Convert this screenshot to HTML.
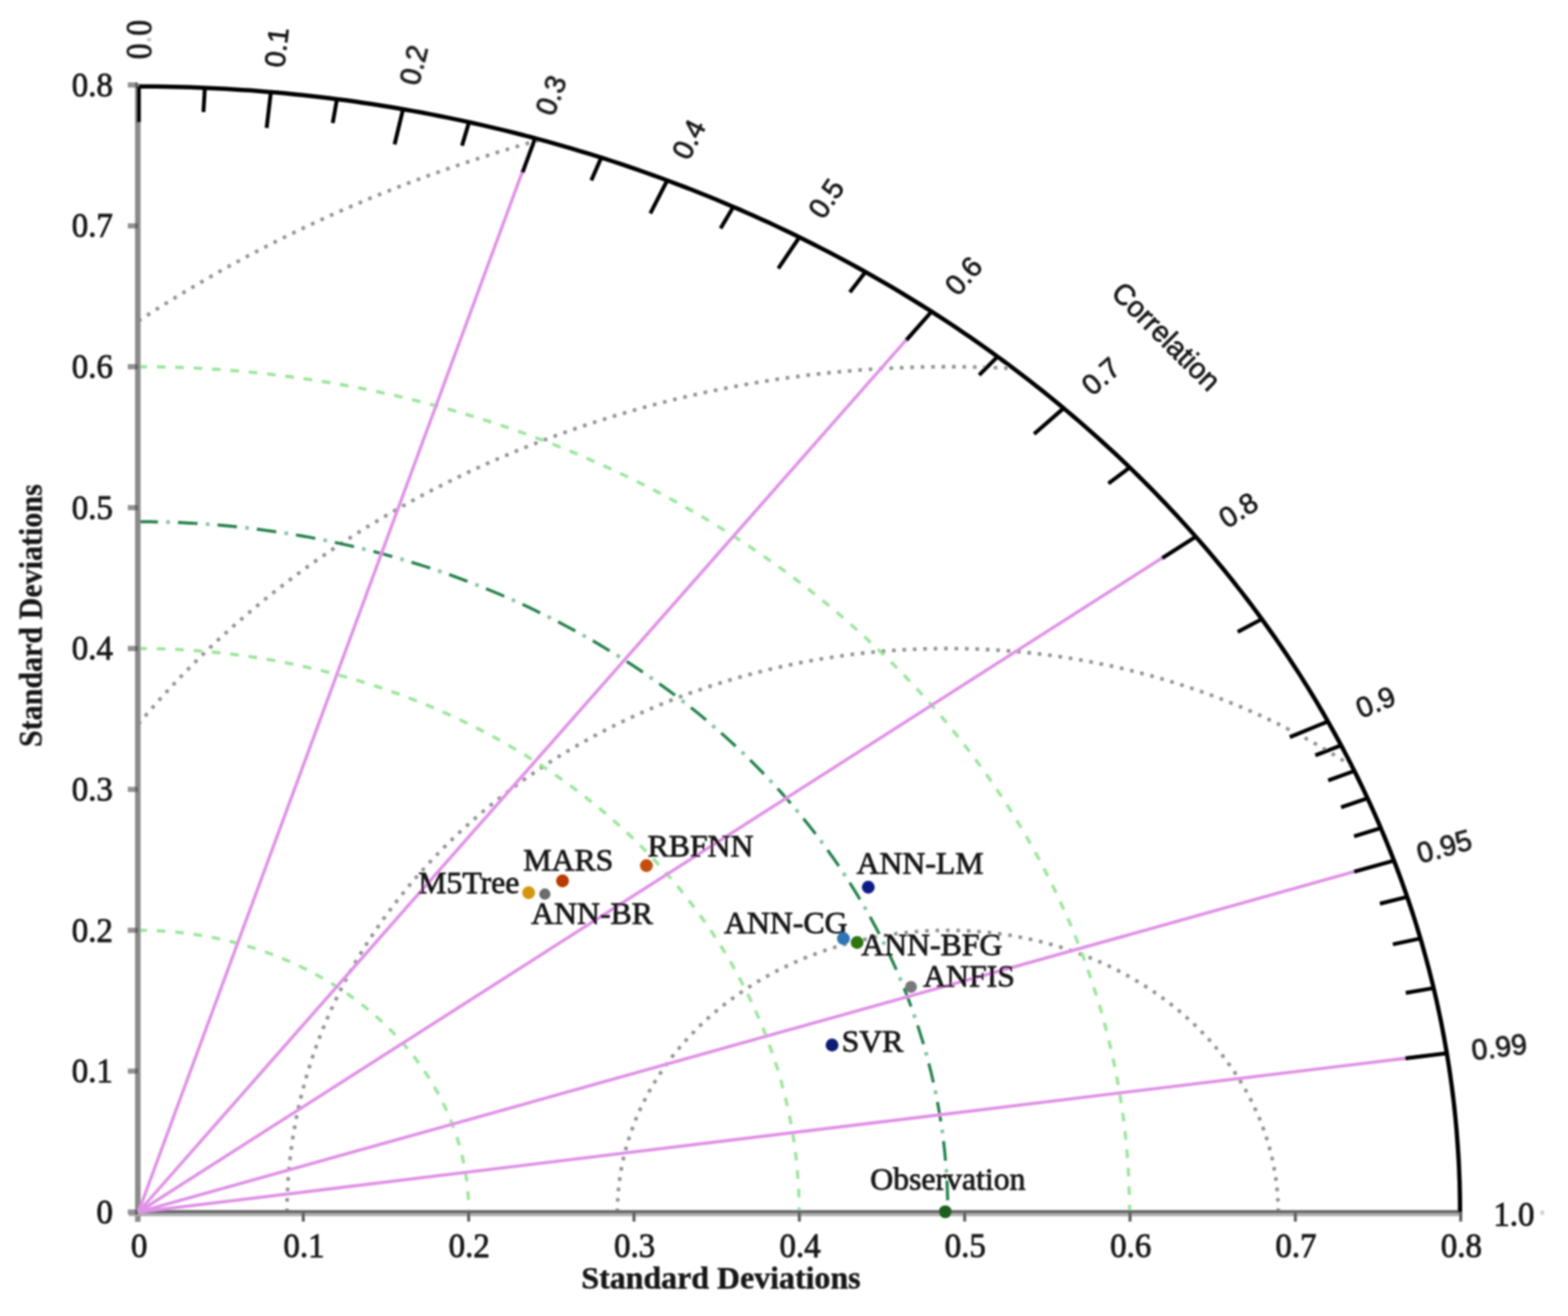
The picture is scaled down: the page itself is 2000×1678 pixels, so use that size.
<!DOCTYPE html>
<html lang="en">
<head>
<meta charset="utf-8">
<title>Taylor diagram</title>
<style>
html,body{margin:0;padding:0;background:#fff;}
body{width:2000px;height:1678px;overflow:hidden;}
svg{display:block;}
</style>
</head>
<body>
<svg width="2000" height="1678" viewBox="0 0 2000 1678">
<defs><filter id="soft" x="0" y="0" width="2000" height="1678" filterUnits="userSpaceOnUse"><feGaussianBlur stdDeviation="1.0"/></filter></defs>
<rect width="2000" height="1678" fill="#fff"/>
<g filter="url(#soft)">
<g fill="none" stroke="#939393" stroke-width="4.6" stroke-dasharray="4.6 8.7">
<path d="M787.5 1545.5 L787.6 1539.9 L787.7 1534.2 L788 1528.6 L788.4 1522.9 L788.8 1517.3 L789.4 1511.7 L790.1 1506.1 L790.9 1500.5 L791.7 1494.9 L792.7 1489.3 L793.8 1483.7 L795 1478.2 L796.3 1472.6 L797.7 1467.1 L799.2 1461.6 L800.8 1456.1 L802.5 1450.7 L804.3 1445.3 L806.2 1439.9 L808.2 1434.5 L810.2 1429.1 L812.4 1423.8 L814.7 1418.5 L817.1 1413.2 L819.6 1408 L822.2 1402.8 L824.9 1397.6 L827.6 1392.5 L830.5 1387.4 L833.5 1382.4 L836.5 1377.4 L839.7 1372.4 L842.9 1367.5 L846.2 1362.6 L849.6 1357.8 L853.1 1353 L856.7 1348.2 L860.4 1343.5 L864.2 1338.9 L868 1334.3 L871.9 1329.8 L876 1325.3 L880.1 1320.9 L884.2 1316.5 L888.5 1312.2 L892.8 1307.9 L897.2 1303.7 L901.7 1299.5 L906.3 1295.5 L911 1291.4 L915.7 1287.5 L920.5 1283.6 L925.3 1279.8 L930.3 1276 L935.3 1272.3 L940.3 1268.7 L945.5 1265.1 L950.7 1261.6 L955.9 1258.2 L961.2 1254.8 L966.6 1251.5 L972.1 1248.3 L977.6 1245.2 L983.1 1242.1 L988.7 1239.1 L994.4 1236.2 L1000.1 1233.4 L1005.9 1230.6 L1011.7 1228 L1017.6 1225.4 L1023.5 1222.8 L1029.5 1220.4 L1035.5 1218 L1041.6 1215.8 L1047.7 1213.6 L1053.8 1211.4 L1060 1209.4 L1066.2 1207.4 L1072.4 1205.6 L1078.7 1203.8 L1085 1202.1 L1091.4 1200.5 L1097.7 1198.9 L1104.1 1197.5 L1110.6 1196.1 L1117 1194.9 L1123.5 1193.7 L1130 1192.6 L1136.5 1191.6 L1143 1190.6 L1149.6 1189.8 L1156.1 1189 L1162.7 1188.4 L1169.3 1187.8 L1175.9 1187.3 L1182.5 1186.9 L1189.1 1186.6 L1195.7 1186.4 L1202.3 1186.2 L1208.9 1186.2 L1215.5 1186.2 L1222.2 1186.4 L1228.8 1186.6 L1235.4 1186.9 L1242 1187.3 L1248.6 1187.8 L1255.2 1188.4 L1261.7 1189 L1268.3 1189.8 L1274.9 1190.6 L1281.4 1191.6 L1287.9 1192.6 L1294.4 1193.7 L1300.9 1194.9 L1307.3 1196.1 L1313.7 1197.5 L1320.1 1198.9 L1326.5 1200.5 L1332.8 1202.1 L1339.1 1203.8 L1345.4 1205.6 L1351.7 1207.4 L1357.9 1209.4 L1364.1 1211.4 L1370.2 1213.6 L1376.3 1215.8 L1382.3 1218 L1388.4 1220.4 L1394.3 1222.8 L1400.2 1225.4 L1406.1 1228 L1411.9 1230.6 L1417.7 1233.4 L1423.4 1236.2 L1429.1 1239.1 L1434.7 1242.1 L1440.3 1245.2 L1445.8 1248.3 L1451.2 1251.5 L1456.6 1254.8 L1461.9 1258.2 L1467.2 1261.6 L1472.4 1265.1 L1477.5 1268.7 L1482.6 1272.3 L1487.6 1276 L1492.5 1279.8 L1497.4 1283.6 L1502.2 1287.5 L1506.9 1291.4 L1511.5 1295.5 L1516.1 1299.5 L1520.6 1303.7 L1525 1307.9 L1529.4 1312.2 L1533.6 1316.5 L1537.8 1320.9 L1541.9 1325.3 L1545.9 1329.8 L1549.8 1334.3 L1553.7 1338.9 L1557.5 1343.5 L1561.1 1348.2 L1564.7 1353 L1568.2 1357.8 L1571.6 1362.6 L1575 1367.5 L1578.2 1372.4 L1581.3 1377.4 L1584.4 1382.4 L1587.4 1387.4 L1590.2 1392.5 L1593 1397.6 L1595.7 1402.8 L1598.3 1408 L1600.7 1413.2 L1603.1 1418.5 L1605.4 1423.8 L1607.6 1429.1 L1609.7 1434.5 L1611.7 1439.9 L1613.6 1445.3 L1615.4 1450.7 L1617.1 1456.1 L1618.7 1461.6 L1620.2 1467.1 L1621.6 1472.6 L1622.9 1478.2 L1624.1 1483.7 L1625.1 1489.3 L1626.1 1494.9 L1627 1500.5 L1627.8 1506.1 L1628.5 1511.7 L1629 1517.3 L1629.5 1522.9 L1629.9 1528.6 L1630.1 1534.2 L1630.3 1539.9 L1630.3 1545.5"/>
<path d="M366.1 1545.5 L366.2 1537.5 L366.3 1529.5 L366.6 1521.5 L367 1513.5 L367.4 1505.5 L368 1497.5 L368.7 1489.5 L369.5 1481.5 L370.4 1473.5 L371.4 1465.6 L372.5 1457.6 L373.7 1449.7 L375 1441.7 L376.4 1433.8 L377.9 1425.9 L379.5 1418 L381.2 1410.1 L383 1402.3 L385 1394.4 L387 1386.6 L389.1 1378.8 L391.3 1371 L393.7 1363.3 L396.1 1355.5 L398.6 1347.8 L401.3 1340.1 L404 1332.5 L406.8 1324.8 L409.8 1317.2 L412.8 1309.6 L415.9 1302.1 L419.2 1294.6 L422.5 1287.1 L425.9 1279.6 L429.5 1272.2 L433.1 1264.8 L436.8 1257.5 L440.6 1250.1 L444.5 1242.9 L448.5 1235.6 L452.6 1228.4 L456.8 1221.2 L461.1 1214.1 L465.5 1207 L470 1200 L474.5 1193 L479.2 1186 L483.9 1179.1 L488.8 1172.2 L493.7 1165.4 L498.7 1158.6 L503.8 1151.9 L509 1145.2 L514.3 1138.6 L519.6 1132 L525.1 1125.5 L530.6 1119 L536.2 1112.6 L541.9 1106.2 L547.7 1099.9 L553.6 1093.7 L559.5 1087.5 L565.5 1081.3 L571.7 1075.2 L577.8 1069.2 L584.1 1063.2 L590.4 1057.3 L596.9 1051.5 L603.4 1045.7 L609.9 1040 L616.6 1034.3 L623.3 1028.7 L630.1 1023.2 L637 1017.7 L643.9 1012.3 L650.9 1007 L658 1001.7 L665.1 996.5 L672.3 991.4 L679.6 986.3 L687 981.3 L694.4 976.4 L701.8 971.5 L709.4 966.7 L717 962 L724.6 957.4 L732.3 952.8 L740.1 948.3 L748 943.9 L755.8 939.6 L763.8 935.3 L771.8 931.1 L779.9 927 L788 923 L796.1 919 L804.4 915.1 L812.6 911.3 L820.9 907.6 L829.3 903.9 L837.7 900.4 L846.2 896.9 L854.7 893.5 L863.2 890.1 L871.8 886.9 L880.4 883.7 L889.1 880.7 L897.8 877.7 L906.6 874.7 L915.4 871.9 L924.2 869.2 L933 866.5 L941.9 863.9 L950.9 861.4 L959.8 859 L968.8 856.7 L977.8 854.4 L986.9 852.3 L996 850.2 L1005.1 848.2 L1014.2 846.3 L1023.3 844.5 L1032.5 842.8 L1041.7 841.2 L1050.9 839.6 L1060.2 838.2 L1069.4 836.8 L1078.7 835.5 L1088 834.3 L1097.3 833.2 L1106.6 832.2 L1115.9 831.3 L1125.3 830.4 L1134.6 829.7 L1144 829 L1153.4 828.5 L1162.7 828 L1172.1 827.6 L1181.5 827.3 L1190.9 827.1 L1200.3 826.9 L1209.7 826.9 L1219.1 827 L1228.5 827.1 L1237.9 827.3 L1247.3 827.6 L1256.6 828.1 L1266 828.6 L1275.4 829.1 L1284.8 829.8 L1294.1 830.6 L1303.4 831.4 L1312.8 832.4 L1322.1 833.4 L1331.4 834.5 L1340.7 835.7 L1349.9 837 L1359.2 838.4 L1368.4 839.9 L1377.7 841.4 L1386.8 843.1 L1396 844.8 L1405.2 846.7 L1414.3 848.6 L1423.4 850.6 L1432.5 852.6 L1441.5 854.8 L1450.5 857.1 L1459.5 859.4 L1468.5 861.8 L1477.4 864.3 L1486.3 866.9 L1495.1 869.6 L1503.9 872.4 L1512.7 875.2 L1521.5 878.1 L1530.2 881.1 L1538.8 884.2 L1547.5 887.4 L1556 890.7 L1564.6 894 L1573.1 897.4 L1581.5 900.9 L1589.9 904.5 L1598.3 908.2 L1606.6 911.9 L1614.9 915.7 L1623.1 919.6 L1631.2 923.6 L1639.3 927.7 L1647.4 931.8 L1655.4 936 L1663.3 940.3 L1671.2 944.6 L1679 949.1 L1686.8 953.6 L1694.5 958.1 L1702.1 962.8 L1709.7 967.5 L1717.3 972.3 L1724.7 977.2"/>
<path d="M176.5 923.4 L180.2 918.9 L184 914.5 L187.8 910 L191.7 905.5 L195.5 901.1 L199.4 896.7 L203.3 892.3 L207.2 887.9 L211.2 883.6 L215.2 879.2 L219.2 874.9 L223.2 870.6 L227.3 866.3 L231.4 862 L235.5 857.8 L239.6 853.5 L243.8 849.3 L248 845.1 L252.2 840.9 L256.4 836.7 L260.7 832.6 L265 828.5 L269.3 824.4 L273.7 820.3 L278 816.2 L282.4 812.1 L286.8 808.1 L291.3 804.1 L295.7 800.1 L300.2 796.1 L304.7 792.2 L309.3 788.2 L313.8 784.3 L318.4 780.4 L323 776.6 L327.6 772.7 L332.3 768.9 L336.9 765 L341.6 761.3 L346.4 757.5 L351.1 753.7 L355.9 750 L360.7 746.3 L365.5 742.6 L370.3 738.9 L375.1 735.3 L380 731.6 L384.9 728 L389.8 724.5 L394.8 720.9 L399.7 717.3 L404.7 713.8 L409.7 710.3 L414.7 706.9 L419.8 703.4 L424.8 700 L429.9 696.6 L435 693.2 L440.2 689.8 L445.3 686.5 L450.5 683.1 L455.7 679.8 L460.9 676.6 L466.1 673.3 L471.3 670.1 L476.6 666.9 L481.9 663.7 L487.2 660.5 L492.5 657.4 L497.8 654.3 L503.2 651.2 L508.6 648.1 L514 645.1 L519.4 642.1 L524.8 639.1 L530.3 636.1 L535.7 633.1 L541.2 630.2 L546.7 627.3 L552.2 624.4 L557.8 621.6 L563.3 618.7 L568.9 615.9 L574.5 613.2 L580.1 610.4 L585.7 607.7 L591.4 605 L597 602.3 L602.7 599.6 L608.4 597 L614.1 594.4 L619.8 591.8 L625.5 589.2 L631.3 586.7 L637 584.2 L642.8 581.7 L648.6 579.3 L654.4 576.8 L660.2 574.4 L666.1 572 L671.9 569.7 L677.8 567.4 L683.6 565.1 L689.5 562.8 L695.4 560.5 L701.4 558.3 L707.3 556.1 L713.2 553.9 L719.2 551.8 L725.2 549.6 L731.2 547.5 L737.1 545.5 L743.2 543.4 L749.2 541.4 L755.2 539.4 L761.3 537.4 L767.3 535.5 L773.4 533.6 L779.5 531.7 L785.5 529.8 L791.7 528 L797.8 526.2 L803.9 524.4 L810 522.7 L816.2 520.9 L822.3 519.2 L828.5 517.6 L834.7 515.9 L840.8 514.3 L847 512.7 L853.2 511.1 L859.5 509.6 L865.7 508.1 L871.9 506.6 L878.1 505.2 L884.4 503.7 L890.7 502.3 L896.9 500.9 L903.2 499.6 L909.5 498.3 L915.8 497 L922.1 495.7 L928.4 494.5 L934.7 493.3 L941 492.1 L947.3 490.9 L953.7 489.8 L960 488.7 L966.3 487.6 L972.7 486.6 L979.1 485.6 L985.4 484.6 L991.8 483.6 L998.2 482.7 L1004.5 481.8 L1010.9 480.9 L1017.3 480.1 L1023.7 479.2 L1030.1 478.4 L1036.5 477.7 L1042.9 476.9 L1049.4 476.2 L1055.8 475.5 L1062.2 474.9 L1068.6 474.3 L1075.1 473.7 L1081.5 473.1 L1087.9 472.5 L1094.4 472 L1100.8 471.5 L1107.3 471.1 L1113.7 470.7 L1120.2 470.3 L1126.6 469.9 L1133.1 469.5 L1139.5 469.2 L1146 468.9 L1152.5 468.7 L1158.9 468.4 L1165.4 468.2 L1171.9 468.1 L1178.3 467.9 L1184.8 467.8 L1191.3 467.7 L1197.7 467.6 L1204.2 467.6 L1210.7 467.6 L1217.1 467.6 L1223.6 467.7 L1230.1 467.8 L1236.6 467.9 L1243 468 L1249.5 468.2 L1256 468.3 L1262.4 468.6 L1268.9 468.8 L1275.3 469.1 L1281.8 469.4 L1288.3 469.7 L1294.7 470.1"/>
<path d="M176.5 409.4 L178.8 407.9 L181.1 406.4 L183.5 404.9 L185.8 403.3 L188.1 401.8 L190.5 400.3 L192.8 398.8 L195.1 397.3 L197.5 395.8 L199.8 394.3 L202.2 392.8 L204.5 391.3 L206.9 389.8 L209.3 388.3 L211.6 386.9 L214 385.4 L216.4 383.9 L218.7 382.4 L221.1 381 L223.5 379.5 L225.9 378 L228.2 376.6 L230.6 375.1 L233 373.7 L235.4 372.2 L237.8 370.8 L240.2 369.4 L242.6 367.9 L245 366.5 L247.4 365.1 L249.8 363.6 L252.2 362.2 L254.7 360.8 L257.1 359.4 L259.5 358 L261.9 356.6 L264.4 355.2 L266.8 353.8 L269.2 352.4 L271.7 351 L274.1 349.6 L276.5 348.2 L279 346.8 L281.4 345.4 L283.9 344.1 L286.3 342.7 L288.8 341.3 L291.2 340 L293.7 338.6 L296.2 337.3 L298.6 335.9 L301.1 334.5 L303.6 333.2 L306.1 331.9 L308.5 330.5 L311 329.2 L313.5 327.9 L316 326.5 L318.5 325.2 L321 323.9 L323.5 322.6 L326 321.3 L328.4 320 L331 318.7 L333.5 317.4 L336 316.1 L338.5 314.8 L341 313.5 L343.5 312.2 L346 310.9 L348.5 309.6 L351.1 308.4 L353.6 307.1 L356.1 305.8 L358.6 304.6 L361.2 303.3 L363.7 302 L366.3 300.8 L368.8 299.5 L371.3 298.3 L373.9 297.1 L376.4 295.8 L379 294.6 L381.5 293.4 L384.1 292.1 L386.7 290.9 L389.2 289.7 L391.8 288.5 L394.3 287.3 L396.9 286.1 L399.5 284.9 L402.1 283.7 L404.6 282.5 L407.2 281.3 L409.8 280.1 L412.4 278.9 L415 277.7 L417.6 276.5 L420.1 275.4 L422.7 274.2 L425.3 273 L427.9 271.9 L430.5 270.7 L433.1 269.6 L435.7 268.4 L438.3 267.3 L441 266.1 L443.6 265 L446.2 263.9 L448.8 262.7 L451.4 261.6 L454 260.5 L456.7 259.4 L459.3 258.3 L461.9 257.1 L464.5 256 L467.2 254.9 L469.8 253.8 L472.4 252.7 L475.1 251.7 L477.7 250.6 L480.4 249.5 L483 248.4 L485.7 247.3 L488.3 246.3 L491 245.2 L493.6 244.1 L496.3 243.1 L498.9 242 L501.6 241 L504.3 239.9 L506.9 238.9 L509.6 237.8 L512.3 236.8 L514.9 235.8 L517.6 234.7 L520.3 233.7 L523 232.7 L525.6 231.7 L528.3 230.7 L531 229.7 L533.7 228.7 L536.4 227.7 L539.1 226.7 L541.8 225.7 L544.5 224.7 L547.2 223.7 L549.9 222.7 L552.6 221.7 L555.3 220.8 L558 219.8 L560.7 218.8 L563.4 217.9 L566.1 216.9 L568.8 216 L571.5 215 L574.2 214.1 L576.9 213.1 L579.7 212.2 L582.4 211.3 L585.1 210.3 L587.8 209.4 L590.6 208.5 L593.3 207.6 L596 206.7 L598.8 205.8 L601.5 204.9 L604.2 204 L607 203.1 L609.7 202.2 L612.4 201.3 L615.2 200.4 L617.9 199.5 L620.7 198.7 L623.4 197.8 L626.2 196.9 L628.9 196.1 L631.7 195.2 L634.4 194.3 L637.2 193.5 L640 192.7 L642.7 191.8 L645.5 191 L648.3 190.1 L651 189.3 L653.8 188.5 L656.6 187.7 L659.3 186.8 L662.1 186 L664.9 185.2 L667.7 184.4 L670.4 183.6 L673.2 182.8 L676 182 L678.8 181.2 L681.6 180.5 L684.3 179.7 L687.1 178.9 L689.9 178.1 L692.7 177.4"/>
</g>
<g fill="none" stroke="#9ce59c" stroke-width="4.1" stroke-dasharray="11 12.5">
<path d="M176.5 1186.2 L179.8 1186.2 L183.1 1186.2 L186.4 1186.3 L189.7 1186.4 L193 1186.5 L196.4 1186.6 L199.7 1186.7 L203 1186.9 L206.3 1187.1 L209.6 1187.3 L212.9 1187.5 L216.2 1187.8 L219.5 1188.1 L222.7 1188.4 L226 1188.7 L229.3 1189 L232.6 1189.4 L235.9 1189.8 L239.2 1190.2 L242.4 1190.6 L245.7 1191.1 L249 1191.6 L252.2 1192 L255.5 1192.6 L258.7 1193.1 L262 1193.7 L265.2 1194.2 L268.4 1194.9 L271.7 1195.5 L274.9 1196.1 L278.1 1196.8 L281.3 1197.5 L284.5 1198.2 L287.7 1198.9 L290.9 1199.7 L294.1 1200.5 L297.2 1201.3 L300.4 1202.1 L303.6 1202.9 L306.7 1203.8 L309.9 1204.7 L313 1205.6 L316.1 1206.5 L319.2 1207.4 L322.4 1208.4 L325.5 1209.4 L328.5 1210.4 L331.6 1211.4 L334.7 1212.5 L337.8 1213.6 L340.8 1214.6 L343.9 1215.8 L346.9 1216.9 L349.9 1218 L352.9 1219.2 L355.9 1220.4 L358.9 1221.6 L361.9 1222.8 L364.9 1224.1 L367.8 1225.4 L370.8 1226.7 L373.7 1228 L376.6 1229.3 L379.5 1230.6 L382.4 1232 L385.3 1233.4 L388.2 1234.8 L391 1236.2 L393.9 1237.7 L396.7 1239.1 L399.5 1240.6 L402.3 1242.1 L405.1 1243.7 L407.9 1245.2 L410.6 1246.8 L413.4 1248.3 L416.1 1249.9 L418.8 1251.5 L421.5 1253.2 L424.2 1254.8 L426.9 1256.5 L429.5 1258.2 L432.2 1259.9 L434.8 1261.6 L437.4 1263.3 L440 1265.1 L442.6 1266.9 L445.1 1268.7 L447.7 1270.5 L450.2 1272.3 L452.7 1274.1 L455.2 1276 L457.7 1277.9 L460.1 1279.8 L462.5 1281.7 L465 1283.6 L467.4 1285.5 L469.8 1287.5 L472.1 1289.4 L474.5 1291.4 L476.8 1293.4 L479.1 1295.5 L481.4 1297.5 L483.7 1299.5 L485.9 1301.6 L488.2 1303.7 L490.4 1305.8 L492.6 1307.9 L494.8 1310 L496.9 1312.2 L499.1 1314.3 L501.2 1316.5 L503.3 1318.7 L505.4 1320.9 L507.4 1323.1 L509.5 1325.3 L511.5 1327.5 L513.5 1329.8 L515.5 1332 L517.4 1334.3 L519.4 1336.6 L521.3 1338.9 L523.2 1341.2 L525 1343.5 L526.9 1345.9 L528.7 1348.2 L530.5 1350.6 L532.3 1353 L534.1 1355.4 L535.8 1357.8 L537.5 1360.2 L539.2 1362.6 L540.9 1365 L542.5 1367.5 L544.2 1369.9 L545.8 1372.4 L547.4 1374.9 L548.9 1377.4 L550.5 1379.9 L552 1382.4 L553.5 1384.9 L554.9 1387.4 L556.4 1390 L557.8 1392.5 L559.2 1395.1 L560.6 1397.6 L561.9 1400.2 L563.2 1402.8 L564.5 1405.4 L565.8 1408 L567.1 1410.6 L568.3 1413.2 L569.5 1415.9 L570.7 1418.5 L571.9 1421.1 L573 1423.8 L574.1 1426.5 L575.2 1429.1 L576.2 1431.8 L577.3 1434.5 L578.3 1437.2 L579.3 1439.9 L580.2 1442.6 L581.2 1445.3 L582.1 1448 L583 1450.7 L583.8 1453.4 L584.7 1456.1 L585.5 1458.9 L586.3 1461.6 L587 1464.4 L587.8 1467.1 L588.5 1469.9 L589.1 1472.6 L589.8 1475.4 L590.4 1478.2 L591 1480.9 L591.6 1483.7 L592.2 1486.5 L592.7 1489.3 L593.2 1492.1 L593.7 1494.9 L594.1 1497.7 L594.6 1500.5 L595 1503.3 L595.4 1506.1 L595.7 1508.9 L596 1511.7 L596.3 1514.5 L596.6 1517.3 L596.8 1520.1 L597.1 1522.9 L597.3 1525.8 L597.4 1528.6 L597.6 1531.4 L597.7 1534.2 L597.8 1537 L597.8 1539.9 L597.9 1542.7 L597.9 1545.5"/>
<path d="M176.5 826.9 L183.1 826.9 L189.7 827 L196.4 827.1 L203 827.3 L209.6 827.5 L216.2 827.7 L222.8 828 L229.4 828.3 L236 828.7 L242.6 829.1 L249.2 829.6 L255.8 830.1 L262.4 830.6 L269 831.2 L275.6 831.9 L282.1 832.6 L288.7 833.3 L295.3 834.1 L301.8 834.9 L308.3 835.7 L314.9 836.7 L321.4 837.6 L327.9 838.6 L334.4 839.6 L340.9 840.7 L347.4 841.8 L353.9 843 L360.4 844.2 L366.8 845.5 L373.2 846.8 L379.7 848.1 L386.1 849.5 L392.5 850.9 L398.9 852.4 L405.3 853.9 L411.6 855.4 L418 857 L424.3 858.7 L430.6 860.3 L436.9 862.1 L443.2 863.8 L449.5 865.6 L455.8 867.5 L462 869.4 L468.2 871.3 L474.4 873.3 L480.6 875.3 L486.8 877.4 L492.9 879.5 L499 881.6 L505.1 883.8 L511.2 886 L517.3 888.3 L523.3 890.6 L529.3 892.9 L535.3 895.3 L541.3 897.7 L547.3 900.2 L553.2 902.7 L559.1 905.2 L565 907.8 L570.9 910.4 L576.7 913.1 L582.5 915.8 L588.3 918.5 L594.1 921.3 L599.8 924.1 L605.5 927 L611.2 929.9 L616.9 932.8 L622.5 935.8 L628.1 938.8 L633.7 941.8 L639.2 944.9 L644.7 948 L650.2 951.2 L655.7 954.4 L661.1 957.6 L666.5 960.8 L671.9 964.1 L677.2 967.5 L682.5 970.8 L687.8 974.3 L693.1 977.7 L698.3 981.2 L703.5 984.7 L708.6 988.2 L713.7 991.8 L718.8 995.4 L723.9 999.1 L728.9 1002.8 L733.9 1006.5 L738.8 1010.2 L743.7 1014 L748.6 1017.8 L753.4 1021.7 L758.2 1025.5 L763 1029.5 L767.8 1033.4 L772.4 1037.4 L777.1 1041.4 L781.7 1045.4 L786.3 1049.5 L790.9 1053.6 L795.4 1057.7 L799.9 1061.9 L804.3 1066.1 L808.7 1070.3 L813.1 1074.5 L817.4 1078.8 L821.6 1083.1 L825.9 1087.4 L830.1 1091.8 L834.2 1096.2 L838.4 1100.6 L842.4 1105.1 L846.5 1109.5 L850.5 1114 L854.4 1118.6 L858.3 1123.1 L862.2 1127.7 L866 1132.3 L869.8 1136.9 L873.6 1141.6 L877.3 1146.3 L880.9 1151 L884.5 1155.7 L888.1 1160.5 L891.6 1165.2 L895.1 1170 L898.5 1174.9 L901.9 1179.7 L905.3 1184.6 L908.6 1189.5 L911.8 1194.4 L915.1 1199.3 L918.2 1204.3 L921.3 1209.2 L924.4 1214.2 L927.4 1219.3 L930.4 1224.3 L933.4 1229.4 L936.2 1234.4 L939.1 1239.5 L941.9 1244.7 L944.6 1249.8 L947.3 1254.9 L950 1260.1 L952.6 1265.3 L955.1 1270.5 L957.7 1275.7 L960.1 1281 L962.5 1286.2 L964.9 1291.5 L967.2 1296.8 L969.5 1302.1 L971.7 1307.4 L973.9 1312.7 L976 1318.1 L978.1 1323.4 L980.1 1328.8 L982 1334.2 L984 1339.6 L985.8 1345 L987.7 1350.4 L989.4 1355.9 L991.2 1361.3 L992.8 1366.8 L994.4 1372.3 L996 1377.7 L997.5 1383.2 L999 1388.7 L1000.4 1394.3 L1001.8 1399.8 L1003.1 1405.3 L1004.4 1410.8 L1005.6 1416.4 L1006.8 1422 L1007.9 1427.5 L1008.9 1433.1 L1009.9 1438.7 L1010.9 1444.2 L1011.8 1449.8 L1012.7 1455.4 L1013.5 1461 L1014.2 1466.6 L1014.9 1472.3 L1015.6 1477.9 L1016.2 1483.5 L1016.7 1489.1 L1017.2 1494.7 L1017.6 1500.4 L1018 1506 L1018.4 1511.6 L1018.7 1517.3 L1018.9 1522.9 L1019.1 1528.6 L1019.2 1534.2 L1019.3 1539.9 L1019.3 1545.5"/>
<path d="M176.5 467.6 L186.4 467.6 L196.4 467.7 L206.3 467.9 L216.2 468.1 L226.1 468.4 L236.1 468.8 L246 469.2 L255.9 469.7 L265.8 470.3 L275.7 470.9 L285.6 471.6 L295.5 472.4 L305.4 473.2 L315.2 474.1 L325.1 475.1 L334.9 476.1 L344.8 477.2 L354.6 478.4 L364.5 479.6 L374.3 480.9 L384.1 482.2 L393.9 483.7 L403.6 485.1 L413.4 486.7 L423.1 488.3 L432.9 490 L442.6 491.7 L452.3 493.6 L462 495.4 L471.6 497.4 L481.3 499.4 L490.9 501.5 L500.5 503.6 L510.1 505.8 L519.7 508.1 L529.2 510.4 L538.7 512.8 L548.2 515.3 L557.7 517.8 L567.2 520.4 L576.6 523 L586 525.7 L595.4 528.5 L604.7 531.3 L614.1 534.2 L623.4 537.2 L632.6 540.2 L641.9 543.3 L651.1 546.4 L660.3 549.7 L669.4 552.9 L678.6 556.3 L687.7 559.6 L696.7 563.1 L705.8 566.6 L714.8 570.2 L723.7 573.8 L732.7 577.5 L741.6 581.3 L750.4 585.1 L759.3 589 L768.1 592.9 L776.8 596.9 L785.5 600.9 L794.2 605 L802.9 609.2 L811.5 613.4 L820 617.7 L828.6 622 L837 626.4 L845.5 630.9 L853.9 635.4 L862.3 640 L870.6 644.6 L878.9 649.3 L887.1 654 L895.3 658.8 L903.4 663.6 L911.5 668.5 L919.6 673.5 L927.6 678.5 L935.6 683.5 L943.5 688.6 L951.3 693.8 L959.2 699 L966.9 704.3 L974.7 709.6 L982.3 715 L990 720.4 L997.5 725.9 L1005.1 731.4 L1012.5 737 L1020 742.6 L1027.3 748.3 L1034.6 754 L1041.9 759.7 L1049.1 765.6 L1056.3 771.4 L1063.4 777.3 L1070.4 783.3 L1077.4 789.3 L1084.4 795.4 L1091.2 801.5 L1098.1 807.6 L1104.8 813.8 L1111.5 820.1 L1118.2 826.3 L1124.8 832.7 L1131.3 839 L1137.8 845.5 L1144.2 851.9 L1150.6 858.4 L1156.9 865 L1163.1 871.6 L1169.3 878.2 L1175.4 884.8 L1181.5 891.6 L1187.5 898.3 L1193.4 905.1 L1199.3 911.9 L1205.1 918.8 L1210.8 925.7 L1216.5 932.6 L1222.1 939.6 L1227.6 946.7 L1233.1 953.7 L1238.5 960.8 L1243.9 967.9 L1249.2 975.1 L1254.4 982.3 L1259.6 989.5 L1264.7 996.8 L1269.7 1004.1 L1274.6 1011.4 L1279.5 1018.8 L1284.3 1026.2 L1289.1 1033.7 L1293.8 1041.1 L1298.4 1048.6 L1302.9 1056.1 L1307.4 1063.7 L1311.8 1071.3 L1316.1 1078.9 L1320.4 1086.6 L1324.6 1094.2 L1328.7 1101.9 L1332.7 1109.7 L1336.7 1117.4 L1340.6 1125.2 L1344.5 1133 L1348.2 1140.8 L1351.9 1148.7 L1355.5 1156.6 L1359.1 1164.5 L1362.6 1172.4 L1366 1180.4 L1369.3 1188.4 L1372.5 1196.3 L1375.7 1204.4 L1378.8 1212.4 L1381.9 1220.5 L1384.8 1228.6 L1387.7 1236.7 L1390.5 1244.8 L1393.2 1252.9 L1395.9 1261.1 L1398.5 1269.2 L1401 1277.4 L1403.4 1285.6 L1405.8 1293.9 L1408 1302.1 L1410.3 1310.4 L1412.4 1318.6 L1414.4 1326.9 L1416.4 1335.2 L1418.3 1343.5 L1420.1 1351.8 L1421.9 1360.2 L1423.5 1368.5 L1425.1 1376.9 L1426.7 1385.2 L1428.1 1393.6 L1429.4 1402 L1430.7 1410.4 L1431.9 1418.8 L1433.1 1427.2 L1434.1 1435.6 L1435.1 1444.1 L1436 1452.5 L1436.8 1460.9 L1437.5 1469.4 L1438.2 1477.8 L1438.8 1486.3 L1439.3 1494.7 L1439.7 1503.2 L1440.1 1511.6 L1440.3 1520.1 L1440.5 1528.6 L1440.7 1537 L1440.7 1545.5"/>
</g>
<path fill="none" stroke="#86c4a2" stroke-width="4.7" stroke-dasharray="0 35.6 4.6 10.3" d="M176.5 665.2 L184.6 665.2 L192.7 665.3 L200.8 665.5 L208.9 665.6 L217 665.9 L225.1 666.2 L233.2 666.5 L241.3 667 L249.4 667.4 L257.5 667.9 L265.6 668.5 L273.7 669.1 L281.7 669.8 L289.8 670.5 L297.8 671.3 L305.9 672.2 L313.9 673 L322 674 L330 675 L338 676.1 L346 677.2 L354 678.3 L362 679.5 L370 680.8 L377.9 682.1 L385.9 683.5 L393.8 684.9 L401.7 686.4 L409.6 687.9 L417.5 689.5 L425.4 691.2 L433.3 692.9 L441.1 694.6 L448.9 696.4 L456.7 698.3 L464.5 700.2 L472.3 702.1 L480.1 704.1 L487.8 706.2 L495.5 708.3 L503.2 710.5 L510.9 712.7 L518.6 714.9 L526.2 717.3 L533.8 719.6 L541.4 722 L549 724.5 L556.6 727 L564.1 729.6 L571.6 732.2 L579.1 734.9 L586.5 737.6 L594 740.4 L601.4 743.2 L608.7 746.1 L616.1 749 L623.4 752 L630.7 755 L638 758 L645.2 761.2 L652.4 764.3 L659.6 767.5 L666.8 770.8 L673.9 774.1 L681 777.5 L688 780.9 L695.1 784.3 L702 787.8 L709 791.3 L715.9 794.9 L722.8 798.6 L729.7 802.3 L736.5 806 L743.3 809.8 L750.1 813.6 L756.8 817.4 L763.5 821.3 L770.2 825.3 L776.8 829.3 L783.3 833.3 L789.9 837.4 L796.4 841.5 L802.9 845.7 L809.3 849.9 L815.7 854.2 L822 858.5 L828.3 862.8 L834.6 867.2 L840.8 871.7 L847 876.1 L853.2 880.6 L859.3 885.2 L865.3 889.8 L871.3 894.4 L877.3 899.1 L883.2 903.8 L889.1 908.6 L895 913.3 L900.8 918.2 L906.5 923 L912.2 928 L917.9 932.9 L923.5 937.9 L929.1 942.9 L934.6 948 L940.1 953.1 L945.6 958.2 L950.9 963.4 L956.3 968.6 L961.6 973.8 L966.8 979.1 L972 984.4 L977.1 989.7 L982.2 995.1 L987.3 1000.5 L992.3 1006 L997.2 1011.4 L1002.1 1017 L1007 1022.5 L1011.8 1028.1 L1016.5 1033.7 L1021.2 1039.3 L1025.8 1045 L1030.4 1050.7 L1034.9 1056.4 L1039.4 1062.2 L1043.8 1068 L1048.2 1073.8 L1052.5 1079.7 L1056.8 1085.6 L1061 1091.5 L1065.2 1097.4 L1069.3 1103.4 L1073.3 1109.4 L1077.3 1115.4 L1081.2 1121.4 L1085.1 1127.5 L1088.9 1133.6 L1092.7 1139.7 L1096.4 1145.9 L1100.1 1152 L1103.7 1158.2 L1107.2 1164.4 L1110.7 1170.7 L1114.1 1177 L1117.5 1183.3 L1120.8 1189.6 L1124 1195.9 L1127.2 1202.3 L1130.3 1208.6 L1133.4 1215 L1136.4 1221.4 L1139.4 1227.9 L1142.3 1234.3 L1145.1 1240.8 L1147.9 1247.3 L1150.6 1253.8 L1153.3 1260.4 L1155.9 1266.9 L1158.4 1273.5 L1160.9 1280.1 L1163.3 1286.7 L1165.6 1293.3 L1167.9 1299.9 L1170.2 1306.6 L1172.3 1313.2 L1174.4 1319.9 L1176.5 1326.6 L1178.5 1333.3 L1180.4 1340 L1182.3 1346.7 L1184.1 1353.5 L1185.8 1360.2 L1187.5 1367 L1189.1 1373.8 L1190.6 1380.6 L1192.1 1387.3 L1193.6 1394.2 L1194.9 1401 L1196.2 1407.8 L1197.5 1414.6 L1198.6 1421.5 L1199.7 1428.3 L1200.8 1435.2 L1201.8 1442 L1202.7 1448.9 L1203.6 1455.8 L1204.3 1462.7 L1205.1 1469.5 L1205.7 1476.4 L1206.4 1483.3 L1206.9 1490.2 L1207.4 1497.1 L1207.8 1504 L1208.1 1510.9 L1208.4 1517.8 L1208.6 1524.8 L1208.8 1531.7 L1208.9 1538.6 L1208.9 1545.5"/>
<path fill="none" stroke="#26824e" stroke-width="3.9" stroke-dasharray="25 25.5" d="M176.5 665.2 L184.6 665.2 L192.7 665.3 L200.8 665.5 L208.9 665.6 L217 665.9 L225.1 666.2 L233.2 666.5 L241.3 667 L249.4 667.4 L257.5 667.9 L265.6 668.5 L273.7 669.1 L281.7 669.8 L289.8 670.5 L297.8 671.3 L305.9 672.2 L313.9 673 L322 674 L330 675 L338 676.1 L346 677.2 L354 678.3 L362 679.5 L370 680.8 L377.9 682.1 L385.9 683.5 L393.8 684.9 L401.7 686.4 L409.6 687.9 L417.5 689.5 L425.4 691.2 L433.3 692.9 L441.1 694.6 L448.9 696.4 L456.7 698.3 L464.5 700.2 L472.3 702.1 L480.1 704.1 L487.8 706.2 L495.5 708.3 L503.2 710.5 L510.9 712.7 L518.6 714.9 L526.2 717.3 L533.8 719.6 L541.4 722 L549 724.5 L556.6 727 L564.1 729.6 L571.6 732.2 L579.1 734.9 L586.5 737.6 L594 740.4 L601.4 743.2 L608.7 746.1 L616.1 749 L623.4 752 L630.7 755 L638 758 L645.2 761.2 L652.4 764.3 L659.6 767.5 L666.8 770.8 L673.9 774.1 L681 777.5 L688 780.9 L695.1 784.3 L702 787.8 L709 791.3 L715.9 794.9 L722.8 798.6 L729.7 802.3 L736.5 806 L743.3 809.8 L750.1 813.6 L756.8 817.4 L763.5 821.3 L770.2 825.3 L776.8 829.3 L783.3 833.3 L789.9 837.4 L796.4 841.5 L802.9 845.7 L809.3 849.9 L815.7 854.2 L822 858.5 L828.3 862.8 L834.6 867.2 L840.8 871.7 L847 876.1 L853.2 880.6 L859.3 885.2 L865.3 889.8 L871.3 894.4 L877.3 899.1 L883.2 903.8 L889.1 908.6 L895 913.3 L900.8 918.2 L906.5 923 L912.2 928 L917.9 932.9 L923.5 937.9 L929.1 942.9 L934.6 948 L940.1 953.1 L945.6 958.2 L950.9 963.4 L956.3 968.6 L961.6 973.8 L966.8 979.1 L972 984.4 L977.1 989.7 L982.2 995.1 L987.3 1000.5 L992.3 1006 L997.2 1011.4 L1002.1 1017 L1007 1022.5 L1011.8 1028.1 L1016.5 1033.7 L1021.2 1039.3 L1025.8 1045 L1030.4 1050.7 L1034.9 1056.4 L1039.4 1062.2 L1043.8 1068 L1048.2 1073.8 L1052.5 1079.7 L1056.8 1085.6 L1061 1091.5 L1065.2 1097.4 L1069.3 1103.4 L1073.3 1109.4 L1077.3 1115.4 L1081.2 1121.4 L1085.1 1127.5 L1088.9 1133.6 L1092.7 1139.7 L1096.4 1145.9 L1100.1 1152 L1103.7 1158.2 L1107.2 1164.4 L1110.7 1170.7 L1114.1 1177 L1117.5 1183.3 L1120.8 1189.6 L1124 1195.9 L1127.2 1202.3 L1130.3 1208.6 L1133.4 1215 L1136.4 1221.4 L1139.4 1227.9 L1142.3 1234.3 L1145.1 1240.8 L1147.9 1247.3 L1150.6 1253.8 L1153.3 1260.4 L1155.9 1266.9 L1158.4 1273.5 L1160.9 1280.1 L1163.3 1286.7 L1165.6 1293.3 L1167.9 1299.9 L1170.2 1306.6 L1172.3 1313.2 L1174.4 1319.9 L1176.5 1326.6 L1178.5 1333.3 L1180.4 1340 L1182.3 1346.7 L1184.1 1353.5 L1185.8 1360.2 L1187.5 1367 L1189.1 1373.8 L1190.6 1380.6 L1192.1 1387.3 L1193.6 1394.2 L1194.9 1401 L1196.2 1407.8 L1197.5 1414.6 L1198.6 1421.5 L1199.7 1428.3 L1200.8 1435.2 L1201.8 1442 L1202.7 1448.9 L1203.6 1455.8 L1204.3 1462.7 L1205.1 1469.5 L1205.7 1476.4 L1206.4 1483.3 L1206.9 1490.2 L1207.4 1497.1 L1207.8 1504 L1208.1 1510.9 L1208.4 1517.8 L1208.6 1524.8 L1208.8 1531.7 L1208.9 1538.6 L1208.9 1545.5"/>
<rect x="172.3" y="107" width="7" height="1451" fill="#8a8a8a"/>
<rect x="164.5" y="1542.9" width="1700.5" height="4.5" fill="#6b6b6b"/>
<rect x="164.5" y="1547.4" width="1700.5" height="3.3" fill="#ababab"/>
<rect x="384.9" y="1546" width="3.9" height="11.6" fill="#5e5e5e"/>
<rect x="595.8" y="1546" width="3.9" height="11.6" fill="#5e5e5e"/>
<rect x="806.7" y="1546" width="3.9" height="11.6" fill="#5e5e5e"/>
<rect x="1017.6" y="1546" width="3.9" height="11.6" fill="#5e5e5e"/>
<rect x="1228.5" y="1546" width="3.9" height="11.6" fill="#5e5e5e"/>
<rect x="1439.4" y="1546" width="3.9" height="11.6" fill="#5e5e5e"/>
<rect x="1650.3" y="1546" width="3.9" height="11.6" fill="#5e5e5e"/>
<rect x="1861.2" y="1546" width="3.9" height="11.6" fill="#5e5e5e"/>
<rect x="163" y="1542.2" width="9.5" height="6.6" fill="#929292"/>
<rect x="172.3" y="1542.2" width="3.4" height="6.6" fill="#5c5c5c"/>
<rect x="163" y="1362.5" width="9.5" height="6.6" fill="#929292"/>
<rect x="172.3" y="1362.5" width="3.4" height="6.6" fill="#5c5c5c"/>
<rect x="163" y="1182.9" width="9.5" height="6.6" fill="#929292"/>
<rect x="172.3" y="1182.9" width="3.4" height="6.6" fill="#5c5c5c"/>
<rect x="163" y="1003.2" width="9.5" height="6.6" fill="#929292"/>
<rect x="172.3" y="1003.2" width="3.4" height="6.6" fill="#5c5c5c"/>
<rect x="163" y="823.6" width="9.5" height="6.6" fill="#929292"/>
<rect x="172.3" y="823.6" width="3.4" height="6.6" fill="#5c5c5c"/>
<rect x="163" y="644" width="9.5" height="6.6" fill="#929292"/>
<rect x="172.3" y="644" width="3.4" height="6.6" fill="#5c5c5c"/>
<rect x="163" y="464.3" width="9.5" height="6.6" fill="#929292"/>
<rect x="172.3" y="464.3" width="3.4" height="6.6" fill="#5c5c5c"/>
<rect x="163" y="284.7" width="9.5" height="6.6" fill="#929292"/>
<rect x="172.3" y="284.7" width="3.4" height="6.6" fill="#5c5c5c"/>
<rect x="163" y="105" width="9.5" height="6.6" fill="#929292"/>
<rect x="172.3" y="105" width="3.4" height="6.6" fill="#5c5c5c"/>
<g stroke="#e092e6" stroke-width="4.1" fill="none">
<line x1="176.5" y1="1545.5" x2="674.5" y2="196.8"/>
<line x1="176.5" y1="1545.5" x2="1172.5" y2="414.5"/>
<line x1="176.5" y1="1545.5" x2="1504.5" y2="697.2"/>
<line x1="176.5" y1="1545.5" x2="1753.5" y2="1104.1"/>
<line x1="176.5" y1="1545.5" x2="1819.9" y2="1346.1"/>
</g>
<path d="M177 107.5 L188 107.5 L199.1 107.6 L210.1 107.7 L221.2 107.9 L232.2 108.2 L243.3 108.6 L254.3 109 L265.3 109.4 L276.4 109.9 L287.4 110.5 L298.4 111.2 L309.4 111.9 L320.4 112.6 L331.4 113.5 L342.4 114.4 L353.4 115.3 L364.4 116.3 L375.4 117.4 L386.3 118.5 L397.3 119.7 L408.2 121 L419.2 122.3 L430.1 123.7 L441 125.1 L451.9 126.6 L462.8 128.2 L473.7 129.8 L484.6 131.5 L495.4 133.3 L506.2 135.1 L517.1 136.9 L527.9 138.9 L538.7 140.8 L549.5 142.9 L560.2 145 L571 147.2 L581.7 149.4 L592.4 151.7 L603.1 154 L613.8 156.4 L624.5 158.9 L635.1 161.4 L645.7 164 L656.3 166.6 L666.9 169.3 L677.5 172.1 L688 174.9 L698.5 177.8 L709 180.7 L719.5 183.7 L729.9 186.8 L740.4 189.9 L750.8 193.1 L761.1 196.3 L771.5 199.6 L781.8 202.9 L792.1 206.3 L802.4 209.8 L812.6 213.3 L822.9 216.9 L833 220.5 L843.2 224.2 L853.3 227.9 L863.4 231.7 L873.5 235.6 L883.6 239.5 L893.6 243.4 L903.6 247.5 L913.5 251.5 L923.5 255.7 L933.3 259.9 L943.2 264.1 L953 268.4 L962.8 272.8 L972.6 277.2 L982.3 281.6 L992 286.2 L1001.7 290.7 L1011.3 295.3 L1020.9 300 L1030.4 304.8 L1039.9 309.5 L1049.4 314.4 L1058.8 319.3 L1068.2 324.2 L1077.6 329.2 L1086.9 334.3 L1096.2 339.3 L1105.5 344.5 L1114.7 349.7 L1123.8 355 L1133 360.3 L1142 365.6 L1151.1 371 L1160.1 376.5 L1169 382 L1178 387.5 L1186.8 393.1 L1195.7 398.8 L1204.5 404.5 L1213.2 410.3 L1221.9 416.1 L1230.5 421.9 L1239.2 427.8 L1247.7 433.7 L1256.2 439.7 L1264.7 445.8 L1273.1 451.9 L1281.5 458 L1289.8 464.2 L1298.1 470.4 L1306.4 476.7 L1314.5 483 L1322.7 489.4 L1330.8 495.8 L1338.8 502.2 L1346.8 508.7 L1354.7 515.3 L1362.6 521.9 L1370.5 528.5 L1378.3 535.2 L1386 541.9 L1393.7 548.7 L1401.3 555.5 L1408.9 562.3 L1416.4 569.2 L1423.9 576.1 L1431.3 583.1 L1438.7 590.1 L1446 597.2 L1453.3 604.3 L1460.5 611.4 L1467.6 618.6 L1474.7 625.8 L1481.7 633 L1488.7 640.3 L1495.6 647.7 L1502.5 655 L1509.3 662.5 L1516.1 669.9 L1522.8 677.4 L1529.4 684.9 L1536 692.5 L1542.5 700.1 L1549 707.7 L1555.4 715.4 L1561.8 723.1 L1568 730.8 L1574.3 738.6 L1580.4 746.4 L1586.5 754.2 L1592.6 762.1 L1598.6 770 L1604.5 778 L1610.4 785.9 L1616.2 794 L1621.9 802 L1627.6 810.1 L1633.2 818.2 L1638.8 826.3 L1644.3 834.5 L1649.7 842.7 L1655.1 850.9 L1660.4 859.2 L1665.6 867.4 L1670.8 875.8 L1675.9 884.1 L1681 892.5 L1686 900.9 L1690.9 909.3 L1695.7 917.8 L1700.5 926.2 L1705.3 934.8 L1709.9 943.3 L1714.5 951.8 L1719 960.4 L1723.5 969 L1727.9 977.7 L1732.2 986.3 L1736.5 995 L1740.7 1003.7 L1744.8 1012.5 L1748.9 1021.2 L1752.9 1030 L1756.8 1038.8 L1760.7 1047.6 L1764.4 1056.5 L1768.2 1065.3 L1771.8 1074.2 L1775.4 1083.1 L1778.9 1092 L1782.4 1101 L1785.8 1110 L1789.1 1118.9 L1792.3 1127.9 L1795.5 1136.9 L1798.6 1146 L1801.6 1155 L1804.6 1164.1 L1807.5 1173.2 L1810.3 1182.3 L1813.1 1191.4 L1815.8 1200.5 L1818.4 1209.7 L1820.9 1218.9 L1823.4 1228 L1825.8 1237.2 L1828.1 1246.4 L1830.4 1255.6 L1832.6 1264.9 L1834.7 1274.1 L1836.8 1283.4 L1838.7 1292.6 L1840.7 1301.9 L1842.5 1311.2 L1844.3 1320.5 L1845.9 1329.8 L1847.6 1339.1 L1849.1 1348.4 L1850.6 1357.7 L1852 1367.1 L1853.3 1376.4 L1854.6 1385.8 L1855.8 1395.1 L1856.9 1404.5 L1858 1413.9 L1858.9 1423.3 L1859.8 1432.6 L1860.7 1442 L1861.4 1451.4 L1862.1 1460.8 L1862.7 1470.2 L1863.3 1479.6 L1863.7 1489 L1864.1 1498.4 L1864.5 1507.8 L1864.7 1517.3 L1864.9 1526.7 L1865 1536.1 L1865 1545.5 L1859.5 1545.5 L1859.5 1536.1 L1859.4 1526.8 L1859.2 1517.4 L1859 1508 L1858.6 1498.6 L1858.3 1489.3 L1857.8 1479.9 L1857.2 1470.6 L1856.6 1461.2 L1855.9 1451.8 L1855.2 1442.5 L1854.4 1433.1 L1853.5 1423.8 L1852.5 1414.5 L1851.5 1405.1 L1850.3 1395.8 L1849.2 1386.5 L1847.9 1377.2 L1846.6 1367.9 L1845.2 1358.6 L1843.7 1349.3 L1842.1 1340 L1840.5 1330.7 L1838.8 1321.5 L1837.1 1312.2 L1835.3 1303 L1833.4 1293.7 L1831.4 1284.5 L1829.4 1275.3 L1827.2 1266.1 L1825.1 1256.9 L1822.8 1247.8 L1820.5 1238.6 L1818.1 1229.4 L1815.6 1220.3 L1813.1 1211.2 L1810.5 1202.1 L1807.8 1193 L1805.1 1183.9 L1802.3 1174.8 L1799.4 1165.8 L1796.4 1156.8 L1793.4 1147.8 L1790.3 1138.8 L1787.1 1129.8 L1783.9 1120.8 L1780.6 1111.9 L1777.2 1102.9 L1773.8 1094 L1770.3 1085.2 L1766.7 1076.3 L1763.1 1067.4 L1759.4 1058.6 L1755.6 1049.8 L1751.8 1041 L1747.9 1032.3 L1743.9 1023.5 L1739.8 1014.8 L1735.7 1006.1 L1731.5 997.4 L1727.3 988.8 L1723 980.2 L1718.6 971.6 L1714.2 963 L1709.7 954.4 L1705.1 945.9 L1700.4 937.4 L1695.7 928.9 L1691 920.5 L1686.1 912.1 L1681.2 903.7 L1676.3 895.3 L1671.2 887 L1666.1 878.6 L1661 870.4 L1655.8 862.1 L1650.5 853.9 L1645.1 845.7 L1639.7 837.5 L1634.2 829.4 L1628.7 821.3 L1623.1 813.2 L1617.4 805.2 L1611.7 797.2 L1605.9 789.2 L1600.1 781.2 L1594.2 773.3 L1588.2 765.4 L1582.2 757.6 L1576.1 749.8 L1570 742 L1563.8 734.3 L1557.5 726.6 L1551.2 718.9 L1544.8 711.2 L1538.3 703.6 L1531.8 696.1 L1525.3 688.5 L1518.7 681 L1512 673.6 L1505.3 666.2 L1498.5 658.8 L1491.6 651.4 L1484.7 644.1 L1477.8 636.9 L1470.8 629.6 L1463.7 622.4 L1456.6 615.3 L1449.4 608.2 L1442.2 601.1 L1434.9 594.1 L1427.5 587.1 L1420.1 580.1 L1412.7 573.2 L1405.2 566.4 L1397.6 559.6 L1390 552.8 L1382.4 546 L1374.7 539.3 L1366.9 532.7 L1359.1 526.1 L1351.2 519.5 L1343.3 513 L1335.4 506.5 L1327.3 500.1 L1319.3 493.7 L1311.2 487.3 L1303 481 L1294.8 474.8 L1286.5 468.6 L1278.2 462.4 L1269.9 456.3 L1261.5 450.2 L1253.1 444.2 L1244.6 438.3 L1236 432.3 L1227.5 426.4 L1218.8 420.6 L1210.2 414.8 L1201.4 409.1 L1192.7 403.4 L1183.9 397.8 L1175 392.2 L1166.1 386.7 L1157.2 381.2 L1148.2 375.7 L1139.2 370.3 L1130.2 365 L1121.1 359.7 L1111.9 354.5 L1102.8 349.3 L1093.5 344.2 L1084.3 339.1 L1075 334 L1065.7 329.1 L1056.3 324.1 L1046.9 319.3 L1037.4 314.4 L1028 309.7 L1018.4 305 L1008.9 300.3 L999.3 295.7 L989.7 291.1 L980 286.6 L970.3 282.2 L960.6 277.8 L950.8 273.4 L941 269.2 L931.2 264.9 L921.3 260.8 L911.4 256.6 L901.5 252.6 L891.5 248.6 L881.6 244.6 L871.5 240.7 L861.5 236.9 L851.4 233.1 L841.3 229.3 L831.2 225.7 L821 222 L810.8 218.5 L800.6 215 L790.4 211.5 L780.1 208.1 L769.8 204.8 L759.5 201.5 L749.1 198.3 L738.8 195.2 L728.4 192.1 L718 189 L707.5 186 L697.1 183.1 L686.6 180.2 L676.1 177.4 L665.5 174.7 L655 172 L644.4 169.3 L633.8 166.8 L623.2 164.2 L612.6 161.8 L601.9 159.4 L591.3 157.1 L580.6 154.8 L569.9 152.6 L559.2 150.4 L548.4 148.3 L537.7 146.3 L526.9 144.3 L516.1 142.4 L505.3 140.5 L494.5 138.7 L483.7 137 L472.9 135.3 L462 133.7 L451.1 132.1 L440.3 130.6 L429.4 129.2 L418.5 127.8 L407.6 126.5 L396.7 125.2 L385.7 124 L374.8 122.9 L363.9 121.8 L352.9 120.8 L342 119.9 L331 119 L320 118.1 L309 117.4 L298.1 116.7 L287.1 116 L276.1 115.4 L265.1 114.9 L254.1 114.5 L243.1 114.1 L232.1 113.7 L221.1 113.4 L210 113.2 L199 113.1 L188 113 L177 113 Z" fill="#000"/>
<g stroke="#000" fill="none">
<line x1="177" y1="110.2" x2="177" y2="156.1" stroke-width="5"/>
<line x1="345.5" y1="117.4" x2="340.1" y2="163.1" stroke-width="5"/>
<line x1="514.1" y1="139.2" x2="503.3" y2="184.2" stroke-width="5"/>
<line x1="682.6" y1="176.3" x2="666.4" y2="220.1" stroke-width="5"/>
<line x1="851.1" y1="230" x2="829.5" y2="272.1" stroke-width="5"/>
<line x1="1019.6" y1="302.5" x2="992.7" y2="342.3" stroke-width="5"/>
<line x1="1188.2" y1="397.3" x2="1155.8" y2="434" stroke-width="5"/>
<line x1="1356.7" y1="520.5" x2="1319" y2="553.3" stroke-width="5"/>
<line x1="1525.2" y1="684.3" x2="1482.1" y2="711.9" stroke-width="5"/>
<line x1="1693.8" y1="919.9" x2="1645.2" y2="939.9" stroke-width="5"/>
<line x1="1778" y1="1097.3" x2="1726.8" y2="1111.7" stroke-width="5"/>
<line x1="1845.4" y1="1343" x2="1792.1" y2="1349.5" stroke-width="5"/>
<line x1="261.3" y1="112" x2="259.5" y2="142.8" stroke-width="5"/>
<line x1="429.8" y1="126.4" x2="424.4" y2="156.9" stroke-width="5"/>
<line x1="598.3" y1="155.8" x2="589.3" y2="185.7" stroke-width="5"/>
<line x1="766.9" y1="201" x2="754.2" y2="229.9" stroke-width="5"/>
<line x1="935.4" y1="263.7" x2="919.1" y2="291.3" stroke-width="5"/>
<line x1="1103.9" y1="346.8" x2="1084" y2="372.6" stroke-width="5"/>
<line x1="1272.4" y1="454.8" x2="1248.9" y2="478.2" stroke-width="5"/>
<line x1="1441" y1="596.1" x2="1413.8" y2="616.5" stroke-width="5"/>
<line x1="1609.5" y1="789.4" x2="1578.7" y2="805.7" stroke-width="5"/>
<line x1="1710.6" y1="950.4" x2="1677.7" y2="963.2" stroke-width="5"/>
<line x1="1727.5" y1="983" x2="1694.1" y2="995.1" stroke-width="5"/>
<line x1="1744.3" y1="1017.9" x2="1710.6" y2="1029.3" stroke-width="5"/>
<line x1="1761.2" y1="1055.8" x2="1727.1" y2="1066.3" stroke-width="5"/>
<line x1="1794.9" y1="1143.6" x2="1760.1" y2="1152.3" stroke-width="5"/>
<line x1="1811.7" y1="1196.6" x2="1776.6" y2="1204.1" stroke-width="5"/>
<line x1="1828.6" y1="1259.9" x2="1793.1" y2="1266" stroke-width="5"/>
</g>
<g font-family="'Liberation Sans', Arial, Helvetica, sans-serif" font-size="36.5" fill="#141414" stroke="#141414" stroke-width="0.8" text-anchor="middle">
<text transform="translate(352.3 60.3) rotate(-83.3) scale(1.0 1)" dy="0.36em">0.1</text>
<text transform="translate(527.5 82.9) rotate(-76.5) scale(1.0 1)" dy="0.36em">0.2</text>
<text transform="translate(702.8 121.5) rotate(-69.7) scale(1.0 1)" dy="0.36em">0.3</text>
<text transform="translate(878.1 177.4) rotate(-62.9) scale(1.0 1)" dy="0.36em">0.4</text>
<text transform="translate(1053.4 252.8) rotate(-55.9) scale(1.0 1)" dy="0.36em">0.5</text>
<text transform="translate(1228.6 351.3) rotate(-48.6) scale(1.0 1)" dy="0.36em">0.6</text>
<text transform="translate(1403.9 479.5) rotate(-41) scale(1.0 1)" dy="0.36em">0.7</text>
<text transform="translate(1579.2 649.9) rotate(-32.6) scale(1.0 1)" dy="0.36em">0.8</text>
<text transform="translate(1754.4 894.8) rotate(-22.4) scale(1.0 1)" dy="0.36em">0.9</text>
<text transform="translate(1842.1 1079.4) rotate(-15.6) scale(1.0 1)" dy="0.36em">0.95</text>
<text transform="translate(1912.2 1334.9) rotate(-6.9) scale(1.0 1)" dy="0.36em">0.99</text>
<text transform="translate(1488 428.5) rotate(45) scale(0.97 1)" dy="0.36em" font-size="37.4">Correlation</text>
</g>
<g font-family="'Liberation Serif', 'Times New Roman', Times, serif" fill="#141414" stroke="#141414" stroke-width="0.95">
<text transform="translate(177.5 50.5) scale(1.15 1) rotate(-90)" text-anchor="middle" dy="0.34em" font-size="40">0<tspan fill-opacity="0.18" stroke-opacity="0.1">.</tspan>0</text>
<text transform="translate(1931 1562.5) scale(1 1.05)" text-anchor="middle" font-size="42">1.0</text>
<rect x="1965" y="1543.5" width="4.5" height="5.5" fill="#cfcfcf" stroke="none"/>
<text transform="translate(177.6 1603) scale(1 1.05)" text-anchor="middle" font-size="42">0</text>
<text transform="translate(387.7 1603) scale(1 1.05)" text-anchor="middle" font-size="42">0.1</text>
<text transform="translate(598.6 1603) scale(1 1.05)" text-anchor="middle" font-size="42">0.2</text>
<text transform="translate(809.5 1603) scale(1 1.05)" text-anchor="middle" font-size="42">0.3</text>
<text transform="translate(1020.4 1603) scale(1 1.05)" text-anchor="middle" font-size="42">0.4</text>
<text transform="translate(1231.3 1603) scale(1 1.05)" text-anchor="middle" font-size="42">0.5</text>
<text transform="translate(1442.2 1603) scale(1 1.05)" text-anchor="middle" font-size="42">0.6</text>
<text transform="translate(1653.1 1603) scale(1 1.05)" text-anchor="middle" font-size="42">0.7</text>
<text transform="translate(1864 1603) scale(1 1.05)" text-anchor="middle" font-size="42">0.8</text>
<text transform="translate(144 1559.9) scale(1 1.05)" text-anchor="end" font-size="42">0</text>
<text transform="translate(144 1380.2) scale(1 1.05)" text-anchor="end" font-size="42">0.1</text>
<text transform="translate(144 1200.6) scale(1 1.05)" text-anchor="end" font-size="42">0.2</text>
<text transform="translate(144 1020.9) scale(1 1.05)" text-anchor="end" font-size="42">0.3</text>
<text transform="translate(144 841.3) scale(1 1.05)" text-anchor="end" font-size="42">0.4</text>
<text transform="translate(144 661.6) scale(1 1.05)" text-anchor="end" font-size="42">0.5</text>
<text transform="translate(144 482) scale(1 1.05)" text-anchor="end" font-size="42">0.6</text>
<text transform="translate(144 302.4) scale(1 1.05)" text-anchor="end" font-size="42">0.7</text>
<text transform="translate(144 122.7) scale(1 1.05)" text-anchor="end" font-size="42">0.8</text>
<text x="919.6" y="1643" text-anchor="middle" font-weight="bold" font-size="40.7" stroke-width="0.5">Standard Deviations</text>
<text transform="translate(53.6 785) scale(1.12 1) rotate(-90)" text-anchor="middle" font-weight="bold" font-size="38.3" stroke-width="0.3">Standard Deviations</text>
<text x="533.5" y="1138.5" font-size="40.5">M5Tree</text>
<text x="667.5" y="1110" font-size="40.5">MARS</text>
<text x="826" y="1091.5" font-size="40.5">RBFNN</text>
<text x="677.5" y="1177.5" font-size="40.5">ANN-BR</text>
<text x="1092.5" y="1113.5" font-size="40.5">ANN-LM</text>
<text x="923.5" y="1189.5" font-size="40.5">ANN-CG</text>
<text x="1098.5" y="1218" font-size="40.5">ANN-BFG</text>
<text x="1177.5" y="1258" font-size="40.5">ANFIS</text>
<text x="1073.5" y="1340.5" font-size="40.5">SVR</text>
<text x="1110" y="1517" font-size="40.5">Observation</text>
</g>
<circle cx="674.3" cy="1138.3" r="8.2" fill="#d4960a"/>
<circle cx="695" cy="1140" r="7.2" fill="#6c6c6c"/>
<circle cx="717.5" cy="1123.3" r="8.2" fill="#b83a00"/>
<circle cx="824.5" cy="1103.8" r="8.2" fill="#c44e0a"/>
<circle cx="1107.5" cy="1131.3" r="8.2" fill="#0d1f85"/>
<circle cx="1075.8" cy="1196.8" r="8.2" fill="#2e75b6"/>
<circle cx="1093.3" cy="1201.8" r="8.2" fill="#2e7510"/>
<circle cx="1162" cy="1258.3" r="7.6" fill="#787878"/>
<circle cx="1061.3" cy="1332.5" r="8.2" fill="#0a1a75"/>
<circle cx="1205.7" cy="1545.1" r="8.2" fill="#1a5e1a"/>
</g>
</svg>
</body>
</html>
